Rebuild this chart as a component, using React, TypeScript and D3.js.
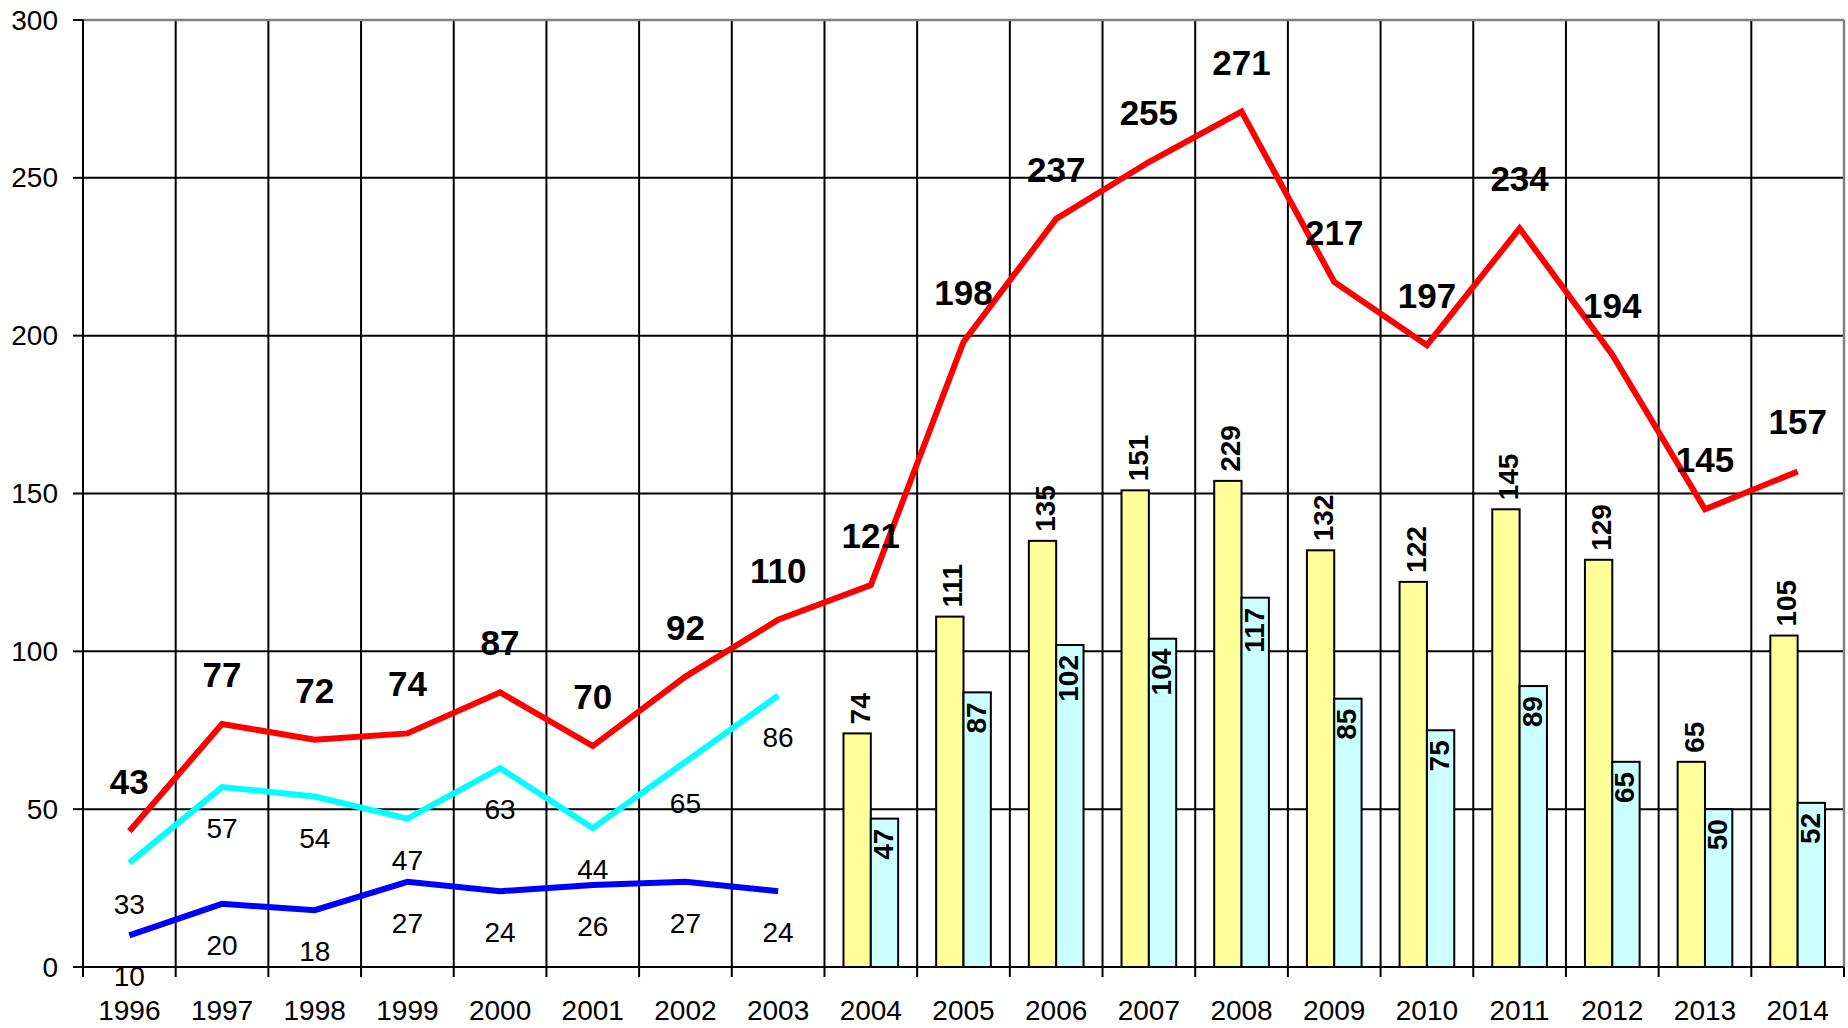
import React from "react";
import * as d3 from "d3";

const years = ["1996","1997","1998","1999","2000","2001","2002","2003","2004","2005","2006","2007","2008","2009","2010","2011","2012","2013","2014"];
const totalValues = [43,77,72,74,87,70,92,110,121,198,237,255,271,217,197,234,194,145,157];
const lineYears = ["1996","1997","1998","1999","2000","2001","2002","2003"];
const cyanLineValues = [33,57,54,47,63,44,65,86];
const blueLineValues = [10,20,18,27,24,26,27,24];
const barYears = ["2004","2005","2006","2007","2008","2009","2010","2011","2012","2013","2014"];
const yellowBarValues = [74,111,135,151,154,132,122,145,129,65,105];
const yellowBarLabels = ["74","111","135","151","229","132","122","145","129","65","105"];
const cyanBarValues = [47,87,102,104,117,85,75,89,65,50,52];
const yTicks = [0,50,100,150,200,250,300];

const W = 1848, H = 1028;
const left = 83, right = 1844, top = 20, bottom = 967;
const FONT = "'Liberation Sans', Arial, Helvetica, sans-serif";

export default function App() {
  const x = d3.scaleBand<string>().domain(years).range([left, right]).paddingInner(0).paddingOuter(0);
  const y = d3.scaleLinear().domain([0, 300]).range([bottom, top]);
  const bw = x.bandwidth();
  const cx = (yr: string) => (x(yr) as number) + bw / 2;
  const barW = bw * 0.295;

  const line = d3.line<[string, number]>().x(d => cx(d[0])).y(d => y(d[1]));
  const totalPts: [string, number][] = years.map((yr, i) => [yr, totalValues[i]]);
  const cyanPts: [string, number][] = lineYears.map((yr, i) => [yr, cyanLineValues[i]]);
  const bluePts: [string, number][] = lineYears.map((yr, i) => [yr, blueLineValues[i]]);

  const boundaries = d3.range(years.length + 1).map(i => left + i * bw);

  return (
    <svg width={W} height={H} style={{ position: "fixed", left: 0, top: 0, background: "#fff" }} fontFamily={FONT}>
      <rect x={0} y={0} width={W} height={H} fill="#fff" />
      {/* horizontal gridlines */}
      {yTicks.filter(t => t > 0 && t < 300).map(t => (
        <line key={"h" + t} x1={left} x2={right} y1={y(t)} y2={y(t)} stroke="#000" strokeWidth={2} />
      ))}
      {/* vertical gridlines */}
      {boundaries.slice(1, -1).map((bx, i) => (
        <line key={"v" + i} x1={bx} x2={bx} y1={top} y2={bottom} stroke="#000" strokeWidth={2} />
      ))}
      {/* top and right border (gray) */}
      <line x1={left} x2={right} y1={top} y2={top} stroke="#808080" strokeWidth={2.5} />
      <line x1={right} x2={right} y1={top} y2={bottom} stroke="#808080" strokeWidth={2.5} />
      {/* bars */}
      {barYears.map((yr, i) => (
        <g key={"b" + yr}>
          <rect x={cx(yr) - barW} y={y(yellowBarValues[i])} width={barW} height={bottom - y(yellowBarValues[i])} fill="#FFFF99" stroke="#000" strokeWidth={2} />
          <rect x={cx(yr)} y={y(cyanBarValues[i])} width={barW} height={bottom - y(cyanBarValues[i])} fill="#CCFFFF" stroke="#000" strokeWidth={2} />
        </g>
      ))}
      {/* axes */}
      <line x1={left} x2={left} y1={top} y2={bottom} stroke="#000" strokeWidth={2} />
      <line x1={left} x2={right} y1={bottom} y2={bottom} stroke="#000" strokeWidth={2} />
      {yTicks.map(t => (
        <g key={"yt" + t}>
          <line x1={left - 10} x2={left} y1={y(t)} y2={y(t)} stroke="#000" strokeWidth={2} />
          <text x={58} y={y(t)} textAnchor="end" dominantBaseline="central" fontSize={28} fill="#000">{t}</text>
        </g>
      ))}
      {boundaries.map((bx, i) => (
        <line key={"xt" + i} x1={bx} x2={bx} y1={bottom} y2={bottom + 10} stroke="#000" strokeWidth={2} />
      ))}
      {years.map(yr => (
        <text key={"xl" + yr} x={cx(yr)} y={1020} textAnchor="middle" fontSize={28} fill="#000">{yr}</text>
      ))}
      {/* lines */}
      <path d={line(bluePts) || ""} fill="none" stroke="#0000FF" strokeWidth={6} strokeLinejoin="miter" />
      <path d={line(cyanPts) || ""} fill="none" stroke="#00FFFF" strokeWidth={6} strokeLinejoin="miter" />
      <path d={line(totalPts) || ""} fill="none" stroke="#FF0000" strokeWidth={6} strokeLinejoin="miter" />
      {/* line labels */}
      {totalPts.map(([yr, v]) => (
        <text key={"tl" + yr} x={cx(yr)} y={y(v) - 37} textAnchor="middle" fontSize={35} fontWeight="bold" fill="#000">{v}</text>
      ))}
      {cyanPts.map(([yr, v]) => (
        <text key={"cl" + yr} x={cx(yr)} y={y(v) + 51} textAnchor="middle" fontSize={28} fill="#000">{v}</text>
      ))}
      {bluePts.map(([yr, v]) => (
        <text key={"bl" + yr} x={cx(yr)} y={y(v) + 51} textAnchor="middle" fontSize={28} fill="#000">{v}</text>
      ))}
      {/* bar labels */}
      {barYears.map((yr, i) => {
        const yx = cx(yr) - barW / 2 + 3;
        const yy = y(yellowBarValues[i]) - 9;
        const cxx = cx(yr) + barW / 2 - 1;
        const cyy = y(cyanBarValues[i]) + 10;
        return (
          <g key={"bll" + yr}>
            <text transform={`translate(${yx},${yy}) rotate(-90)`} textAnchor="start" dominantBaseline="central" fontSize={28} fontWeight="bold" fill="#000">{yellowBarLabels[i]}</text>
            <text transform={`translate(${cxx},${cyy}) rotate(-90)`} textAnchor="end" dominantBaseline="central" fontSize={28} fontWeight="bold" fill="#000">{cyanBarValues[i]}</text>
          </g>
        );
      })}
    </svg>
  );
}
